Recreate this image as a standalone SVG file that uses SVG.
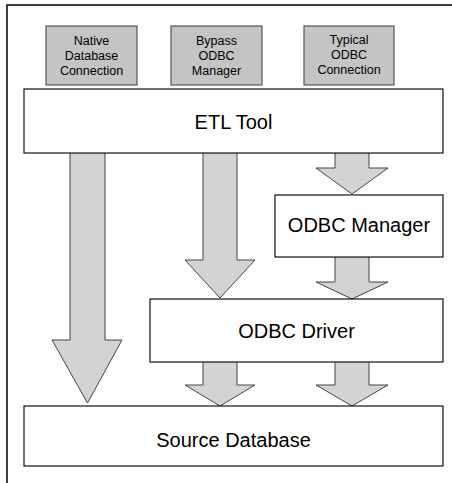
<svg xmlns="http://www.w3.org/2000/svg" width="452" height="483" viewBox="0 0 452 483">
<style>
.frame{fill:#fff;stroke:#000;stroke-width:1.5}
.box{fill:#fff;stroke:#111;stroke-width:1.2}
.tag{fill:#c4c4c4;stroke:#555;stroke-width:1.2}
.arrow{fill:#d3d3d3;stroke:#444;stroke-width:1}
.big{font-family:"Liberation Sans",Arial,sans-serif;font-size:20px;fill:#000;text-anchor:middle}
.small{font-family:"Liberation Sans",Arial,sans-serif;font-size:12.5px;fill:#000;text-anchor:middle}
</style>
<rect class="frame" x="7" y="5" width="470" height="500"/>
<g id="connectors">
<path class="arrow" d="M70,150 V340 H52 L87.5,403 L122,340 H105 V150 Z"/>
<path class="arrow" d="M203,150 V260 H185 L220,298 L255,260 H237 V150 Z"/>
<path class="arrow" d="M335,150 V168 H316 L352,194 L388,168 H369 V150 Z"/>
<path class="arrow" d="M335,255 V282 H316 L352,299 L388,282 H369 V255 Z"/>
<path class="arrow" d="M203,360 V385 H185 L220,406 L255,385 H237 V360 Z"/>
<path class="arrow" d="M335,360 V385 H316 L352,406 L388,385 H369 V360 Z"/>
</g>
<g id="native">
<rect class="tag" x="46" y="26" width="91" height="59"/>
<text class="small" x="91.5" y="45">Native</text>
<text class="small" x="91.5" y="60">Database</text>
<text class="small" x="91.5" y="75">Connection</text>
</g>
<g id="bypass">
<rect class="tag" x="171" y="26" width="91" height="59"/>
<text class="small" x="216.5" y="45">Bypass</text>
<text class="small" x="216.5" y="60">ODBC</text>
<text class="small" x="216.5" y="75">Manager</text>
</g>
<g id="typical">
<rect class="tag" x="304" y="26" width="90" height="59"/>
<text class="small" x="349" y="44">Typical</text>
<text class="small" x="349" y="59">ODBC</text>
<text class="small" x="349" y="74">Connection</text>
</g>
<g id="etl">
<rect class="box" x="24" y="89" width="419" height="64"/>
<text class="big" x="233.5" y="129">ETL Tool</text>
</g>
<g id="manager">
<rect class="box" x="275" y="195" width="168" height="62"/>
<text class="big" x="359" y="232">ODBC Manager</text>
</g>
<g id="driver">
<rect class="box" x="150" y="299" width="293" height="63"/>
<text class="big" x="296.5" y="338">ODBC Driver</text>
</g>
<g id="source">
<rect class="box" x="24" y="406" width="419" height="60"/>
<text class="big" x="233.5" y="447">Source Database</text>
</g>
</svg>
